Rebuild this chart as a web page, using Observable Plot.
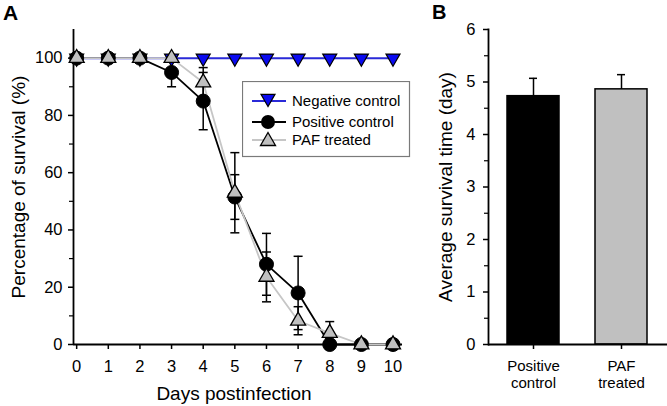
<!DOCTYPE html>
<html><head><meta charset="utf-8">
<script src="https://cdn.jsdelivr.net/npm/d3@7"></script>
<script src="https://cdn.jsdelivr.net/npm/@observablehq/plot@0.6"></script>
<style>
body{margin:0;background:#fff;font-family:"Liberation Sans",Arial,sans-serif;}
#wrap{position:relative;width:667px;height:406px;overflow:hidden;background:#fff;}
.abs{position:absolute;white-space:nowrap;color:#000;line-height:1;}
.rot{transform:translate(-50%,-50%) rotate(-90deg);}
</style></head><body><div id="wrap"></div>
<script>
// ---- Panel A data ----
const days = [0,1,2,3,4,5,6,7,8,9,10];
const negative = [100,100,100,100,100,100,100,100,100,100,100];
const positive = [100,100,100,95,85,51.5,28,18,0,0,0];
const positiveErr = [0,0,0,5,10,7.8,10.8,12.8,0,0,0];
const pafTreated = [100,100,100,100,91.5,53,23.6,8.3,4,0,0];
const pafErr = [0,0,0,0,5.2,14,8.7,4.9,4,0,0];
const yTicksA = [0,20,40,60,80,100];
const yMinorA = [10,30,50,70,90];
// ---- Panel B data ----
const groups = ["Positive control","PAF treated"];
const meanSurvival = [4.73,4.86];
const meanSurvivalErr = [0.34,0.28];
const groupColors = ["#000000","#c0c0c0"];
const yTicksB = [0,1,2,3,4,5,6];
const yMinorB = [0.5,1.5,2.5,3.5,4.5,5.5];

const font = '"Liberation Sans", Arial, sans-serif';
const rowsA = days.map((d,i)=>({day:d,neg:negative[i],pos:positive[i],posErr:positiveErr[i],paf:pafTreated[i],pafErr:pafErr[i]}));
const rowsB = groups.map((g,i)=>({group:g,mean:meanSurvival[i],err:meanSurvivalErr[i]}));

function tri(dir){return {draw(ctx,size){const s=Math.sqrt(size/Math.PI)*2;const h=s*Math.sqrt(3)/2;ctx.moveTo(0,-dir*2*h/3);ctx.lineTo(s/2,dir*h/3);ctx.lineTo(-s/2,dir*h/3);ctx.closePath();}};}
const triUp = tri(1), triDown = tri(-1);
const cap = {draw(ctx){ctx.moveTo(-4.5,0);ctx.lineTo(4.5,0);}};

const posE = rowsA.filter(d=>d.posErr>0), pafE = rowsA.filter(d=>d.pafErr>0);

const plotA = Plot.plot({
  width:425,height:406,marginLeft:73,marginRight:23,marginTop:29,marginBottom:62,
  x:{domain:[-0.1,10.3]}, y:{domain:[0,110]},
  style:{fontFamily:font,fontSize:"16.5px",background:"transparent",color:"#000"},
  marks:[
    Plot.axisX({ticks:days,tickSize:5,tickPadding:11,label:null,fontSize:16.5,strokeWidth:1.5,tickFormat:d=>String(d)}),
    Plot.axisY({ticks:yTicksA,tickSize:5,tickPadding:6,label:null,fontSize:16.5,strokeWidth:1.5,tickFormat:d=>String(d)}),
    Plot.axisY({ticks:yMinorA,tickSize:4,tickFormat:()=>"",label:null,strokeWidth:1.2}),
    Plot.ruleY([0],{stroke:"#000",strokeWidth:1.8}),
    Plot.ruleX([-0.1],{stroke:"#000",strokeWidth:1.8}),
    Plot.line(rowsA,{x:"day",y:"neg",stroke:"#2a2ad8",strokeWidth:2}),
    Plot.line(rowsA,{x:"day",y:"pos",stroke:"#000",strokeWidth:1.8}),
    Plot.line(rowsA,{x:"day",y:"paf",stroke:"#c6c6c6",strokeWidth:1.8}),
    Plot.ruleX(posE,{x:"day",y1:d=>d.pos-d.posErr,y2:d=>d.pos+d.posErr,stroke:"#000",strokeWidth:1.5}),
    Plot.dot(posE,{x:"day",y:d=>d.pos-d.posErr,symbol:cap,stroke:"#000",strokeWidth:1.5}),
    Plot.dot(posE,{x:"day",y:d=>d.pos+d.posErr,symbol:cap,stroke:"#000",strokeWidth:1.5}),
    Plot.ruleX(pafE,{x:"day",y1:d=>d.paf-d.pafErr,y2:d=>d.paf+d.pafErr,stroke:"#000",strokeWidth:1.5}),
    Plot.dot(pafE,{x:"day",y:d=>d.paf-d.pafErr,symbol:cap,stroke:"#000",strokeWidth:1.5}),
    Plot.dot(pafE,{x:"day",y:d=>d.paf+d.pafErr,symbol:cap,stroke:"#000",strokeWidth:1.5}),
    Plot.dot(rowsA,{x:"day",y:"neg",symbol:triDown,r:7,fill:"#0a0af0",stroke:"#000",strokeWidth:1.2}),
    Plot.dot(rowsA,{x:"day",y:"pos",r:7,fill:"#000",stroke:"#000",strokeWidth:1}),
    Plot.dot(rowsA,{x:"day",y:"paf",symbol:triUp,r:7.5,fill:"#c0c0c0",stroke:"#000",strokeWidth:1.3})
  ]
});

const plotB = Plot.plot({
  width:242,height:406,marginLeft:63,marginRight:0,marginTop:29,marginBottom:62,
  x:{type:"band",domain:groups,paddingInner:0.405,paddingOuter:0.214},
  y:{domain:[0,6]},
  color:{domain:groups,range:groupColors},
  style:{fontFamily:font,fontSize:"16.5px",background:"transparent",color:"#000"},
  marks:[
    Plot.barY(rowsB,{x:"group",y:"mean",fill:"group",stroke:"#000",strokeWidth:1.5}),
    Plot.ruleX(rowsB,{x:"group",y1:"mean",y2:d=>d.mean+d.err,stroke:"#000",strokeWidth:1.5}),
    Plot.tickY(rowsB,{x:"group",y:d=>d.mean+d.err,insetLeft:22,insetRight:22,stroke:"#000",strokeWidth:1.5}),
    Plot.axisX({tickSize:5,tickPadding:10,label:null,fontSize:15,lineHeight:1.12,strokeWidth:1.5,tickFormat:d=>d.replace(" ","\n")}),
    Plot.axisY({ticks:yTicksB,tickSize:5,tickPadding:8,label:null,fontSize:16.5,strokeWidth:1.5,tickFormat:d=>String(d)}),
    Plot.axisY({ticks:yMinorB,tickSize:4,tickFormat:()=>"",label:null,strokeWidth:1.2}),
    Plot.ruleY([0],{stroke:"#000",strokeWidth:1.8}),
    Plot.frame({anchor:"left",stroke:"#000",strokeWidth:1.8})
  ]
});

const wrap = document.getElementById("wrap");
plotA.style.position="absolute"; plotA.style.left="0px"; plotA.style.top="0px";
plotB.style.position="absolute"; plotB.style.left="425px"; plotB.style.top="0px";
wrap.appendChild(plotA); wrap.appendChild(plotB);

function addText(txt,css,cls){const d=document.createElement("div");d.className="abs "+(cls||"");d.textContent=txt;Object.assign(d.style,css);wrap.appendChild(d);return d;}
addText("A",{left:"3px",top:"2px",fontSize:"21px",fontWeight:"bold"});
addText("B",{left:"432px",top:"2px",fontSize:"20px",fontWeight:"bold"});
addText("Percentage of survival (%)",{left:"17.5px",top:"187px",fontSize:"19px"},"rot");
addText("Average survival time (day)",{left:"445px",top:"187px",fontSize:"19px"},"rot");
addText("Days postinfection",{left:"234px",top:"384px",fontSize:"19px",transform:"translateX(-50%)"});

// legend
const ns="http://www.w3.org/2000/svg";
const lg=document.createElementNS(ns,"svg");
lg.setAttribute("width","169");lg.setAttribute("height","77");
Object.assign(lg.style,{position:"absolute",left:"242px",top:"81px"});
lg.innerHTML = `
<rect x="0.5" y="0.5" width="167" height="75" fill="#fff" stroke="#7a7a7a" stroke-width="1.2"/>
<line x1="10" x2="44" y1="20" y2="20" stroke="#2a2ad8" stroke-width="2"/>
<path d="M26,25.5 L19,13.4 L33,13.4 Z" fill="#0a0af0" stroke="#000" stroke-width="1.2"/>
<line x1="10" x2="44" y1="41" y2="41" stroke="#000" stroke-width="1.8"/>
<circle cx="26" cy="41" r="7" fill="#000"/>
<line x1="10" x2="44" y1="59" y2="59" stroke="#c6c6c6" stroke-width="1.8"/>
<path d="M26,51.5 L33.5,64.5 L18.5,64.5 Z" fill="#c0c0c0" stroke="#000" stroke-width="1.3"/>
<g font-family='${font}' font-size="15" fill="#000" dominant-baseline="middle">
<text x="50" y="21">Negative control</text>
<text x="50" y="42">Positive control</text>
<text x="50" y="60">PAF treated</text>
</g>`;
wrap.appendChild(lg);
</script></body></html>
